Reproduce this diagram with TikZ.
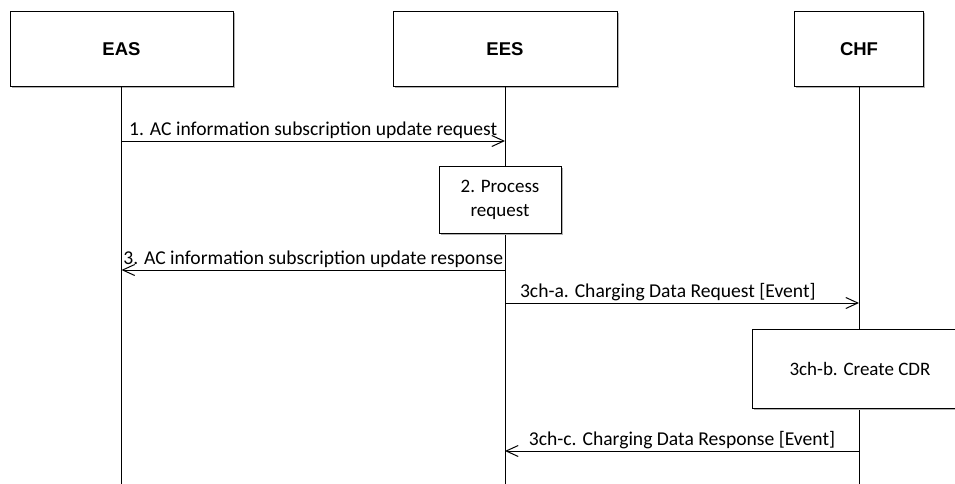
\documentclass[tikz,border=0pt]{standalone}
\usepackage{fontspec}
\setmainfont{Carlito}
\newfontfamily\headfont{Liberation Sans}
\usetikzlibrary{arrows.meta,shadows}

\begin{document}
\begin{tikzpicture}[x=1pt,y=-1pt,
    entity/.style={draw, fill=white, line width=1pt, minimum height=75pt,
        font=\headfont\bfseries\fontsize{18.5}{22}\selectfont,
        drop shadow={shadow xshift=1.5pt, shadow yshift=-1.5pt, fill=black!30, opacity=1}},
    stepbox/.style={draw, fill=white, line width=1pt, align=center,
        font=\fontsize{19}{24}\selectfont,
        drop shadow={shadow xshift=1.5pt, shadow yshift=-1.5pt, fill=black!30, opacity=1}},
    lifeline/.style={line width=1pt},
    msg/.style={line width=1pt, -{Straight Barb[length=12pt,width=11pt,line width=1pt]}},
    msglabel/.style={font=\fontsize{19.6}{22}\selectfont, inner sep=2pt, above}]
        \useasboundingbox (0,0) rectangle (955,484);
        \clip (0,0) rectangle (955,484);

        % participants
        \node[entity, minimum width=223pt] (eas) at (121.5,49.5) {EAS};
        \node[entity, minimum width=224pt] (ees) at (505,49.5) {EES};
        \node[entity, minimum width=129pt] (chf) at (859,49.5) {CHF};

        \coordinate (easend) at (121.5,484);
        \coordinate (eesend) at (505,484);
        \coordinate (chfend) at (859,484);

        \draw[lifeline] (eas.south) -- (easend);
        \draw[lifeline] (ees.south) -- (eesend);
        \draw[lifeline] (chf.south) -- (chfend);

        % messages
        \coordinate (m1a) at (eas.south |- 0,141);
        \coordinate (m1b) at (ees.south |- 0,141);
        \draw[msg] (m1a) -- (m1b) node[msglabel, midway] {1. AC information subscription update request};

        \node[stepbox, minimum width=122pt, minimum height=67pt] (proc) at (500,199.5) {2. Process\\request};

        \coordinate (m3a) at (ees.south |- 0,270);
        \coordinate (m3b) at (eas.south |- 0,270);
        \draw[msg] (m3a) -- (m3b) node[msglabel, midway] {3. AC information subscription update response};

        \coordinate (m4a) at (ees.south |- 0,303);
        \coordinate (m4b) at (chf.south |- 0,303);
        \draw[msg] (m4a) -- (m4b) node[msglabel, pos=0.46] {3ch-a. Charging Data Request [Event]};

        \node[stepbox, minimum width=216pt, minimum height=79pt] (cdr) at (860,368.5) {3ch-b. Create CDR};

        \coordinate (m6a) at (chf.south |- 0,451);
        \coordinate (m6b) at (ees.south |- 0,451);
        \draw[msg] (m6a) -- (m6b) node[msglabel, midway] {3ch-c. Charging Data Response [Event]};

\end{tikzpicture}
\end{document}
